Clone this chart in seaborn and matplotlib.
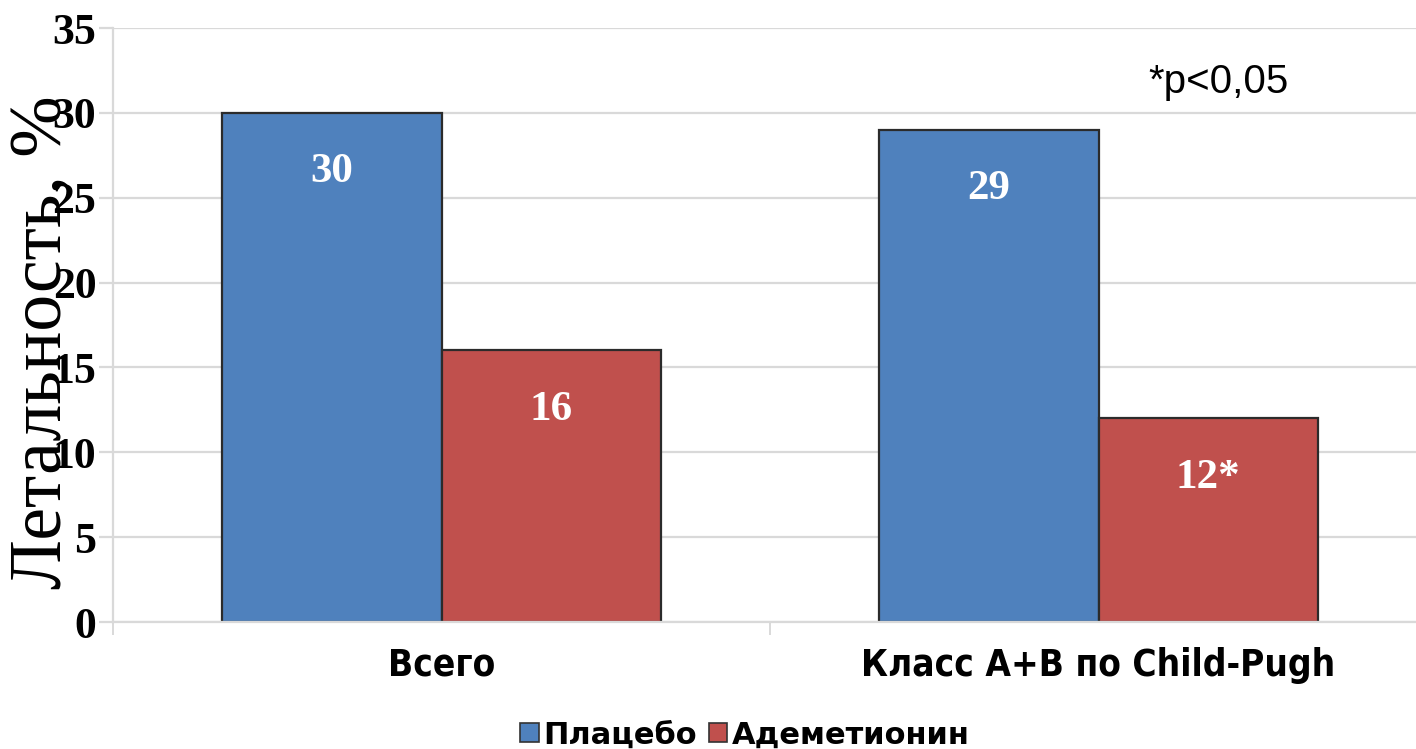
import matplotlib
matplotlib.use("Agg")
import matplotlib.pyplot as plt
from matplotlib.patches import Patch
from matplotlib.ticker import FixedLocator
import seaborn as sns
import pandas as pd

# Data
groups = ["Всего", "Класс A+B по Child-Pugh"]
series = ["Плацебо", "Адеметионин"]
placebo = [30, 29]
ademetionine = [16, 12]
value_labels = [["30", "29"], ["16", "12*"]]
y_ticks = [0, 5, 10, 15, 20, 25, 30, 35]
colors = ["#4F81BD", "#C0504D"]

df = pd.DataFrame({
    "group": groups * 2,
    "series": [series[0]] * 2 + [series[1]] * 2,
    "value": placebo + ademetionine,
})

sns.set_theme(style="white")
plt.rcParams["font.family"] = ["DejaVu Sans"]
plt.rcParams["text.color"] = "black"

fig = plt.figure(figsize=(14.16, 7.49), dpi=100)
ax = fig.add_axes([113 / 1416, 1 - 622 / 749, (1427 - 113) / 1416, (622 - 28) / 749])

sns.barplot(data=df, x="group", y="value", hue="series", hue_order=series,
            order=groups, palette=colors, saturation=1, width=0.667, gap=0,
            edgecolor="#2b2b2b", linewidth=1.6, ax=ax, legend=False)

ax.set_xlim(-0.5, 1.5)
ax.set_ylim(0, 35)
ax.set_yticks(y_ticks)
ax.set_yticklabels([str(t) for t in y_ticks], family="Liberation Serif",
                   fontweight="bold", fontsize=31.5)
ax.grid(axis="y", color="#d9d9d9", linewidth=1.6)
ax.set_axisbelow(True)
ax.tick_params(axis="y", length=10, width=1.6, color="#d9d9d9", pad=2,
               labelcolor="black", left=True)
ax.tick_params(axis="x", which="major", length=0, pad=18, labelcolor="black")
ax.xaxis.set_minor_locator(FixedLocator([-0.5, 0.5, 1.5]))
ax.tick_params(axis="x", which="minor", length=9, width=1.4, color="#d9d9d9",
               bottom=True)
for lbl in ax.get_xticklabels():
    lbl.set_family(["DejaVu Sans"])
    lbl.set_fontstretch("condensed")
    lbl.set_fontweight("bold")
    lbl.set_fontsize(26.5)
ax.set_xlabel("")
ax.set_ylabel("")
for side in ["top", "right"]:
    ax.spines[side].set_visible(False)
for side in ["left", "bottom"]:
    ax.spines[side].set_color("#d9d9d9")
    ax.spines[side].set_linewidth(1.6)

# Value labels inside the bars
for container, labels in zip(ax.containers, value_labels):
    for bar, text in zip(container, labels):
        h = bar.get_height()
        ax.text(bar.get_x() + bar.get_width() / 2, h - 3.5, text,
                ha="center", va="center", color="white",
                family="Liberation Serif", fontweight="bold", fontsize=31)

ax.text(1.183, 31.8, "*p<0,05", ha="center", va="center",
        family="Liberation Sans", fontsize=29, color="black")

fig.text(43 / 1416, 1 - 342 / 749, "Летальность, %", rotation=90,
         ha="center", va="center", family="Liberation Serif", fontsize=53)

handles = [Patch(facecolor=c, edgecolor="#333333", linewidth=1.2) for c in colors]
fig.legend(handles, series, loc="center", bbox_to_anchor=(745 / 1416, 1 - 735 / 749),
           ncol=2, frameon=False, handlelength=0.6, handleheight=0.6,
           handletextpad=0.15, columnspacing=0.4, labelcolor="black",
           prop={"family": "DejaVu Sans", "weight": "bold", "size": 22})

fig.savefig("out.png", dpi=100, facecolor="white")
